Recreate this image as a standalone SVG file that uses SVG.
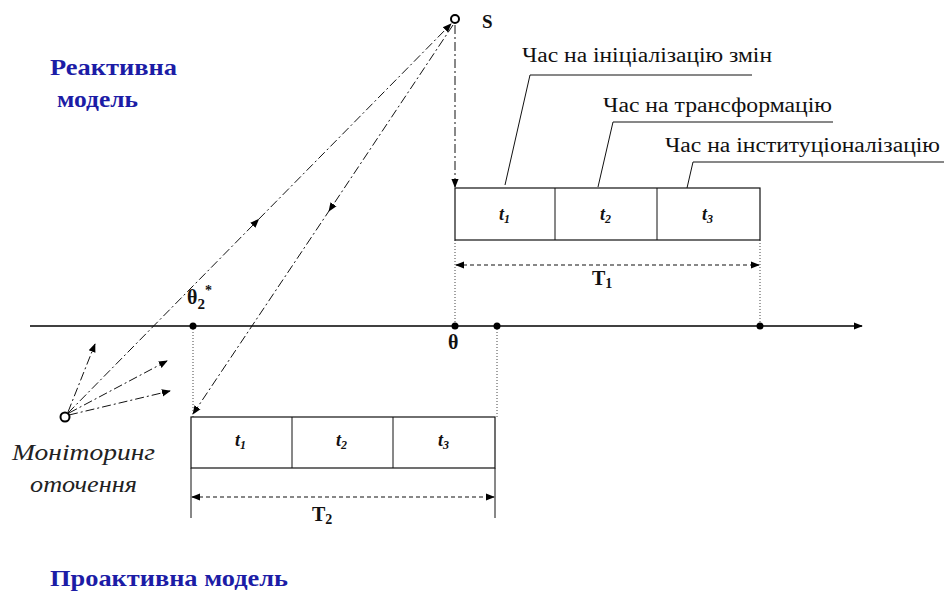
<svg xmlns="http://www.w3.org/2000/svg" width="944" height="595" viewBox="0 0 944 595">
<defs>
<marker id="ah" viewBox="0 0 10 10" refX="9" refY="5" markerWidth="9" markerHeight="9" markerUnits="userSpaceOnUse" orient="auto-start-reverse">
<path d="M0,1 L10,5 L0,9 Z" fill="#000"/>
</marker>
<marker id="ahm" viewBox="0 0 10 10" refX="5" refY="5" markerWidth="9" markerHeight="9" markerUnits="userSpaceOnUse" orient="auto">
<path d="M0,1 L10,5 L0,9 Z" fill="#000"/>
</marker>
<style>
text{font-family:'Liberation Serif','Times New Roman','DejaVu Serif',serif}
.title{font-weight:bold;fill:#1c1ca6;font-size:24px}
.lbl{font-size:20px;fill:#111}
.it{font-style:italic;font-size:24px;fill:#222}
.t{font-style:italic;font-weight:bold;font-size:18px;fill:#111}
.b{font-weight:bold;fill:#111}
.box{fill:#fff;stroke:#111;stroke-width:1.2}
.dd{fill:none;stroke:#111;stroke-width:1;stroke-dasharray:9 3 2 3}
.dash{fill:none;stroke:#111;stroke-width:1.2;stroke-dasharray:4 3}
.dot{fill:none;stroke:#444;stroke-width:1;stroke-dasharray:1 2}
.solid{fill:none;stroke:#111;stroke-width:1}
.pt{fill:#000}
.circ{fill:#fff;stroke:#000;stroke-width:2}
</style>
</defs>
<rect width="944" height="595" fill="#fff"/>

<g id="titles">
<text class="title" x="50" y="75" textLength="127" lengthAdjust="spacingAndGlyphs">Реактивна</text>
<text class="title" x="57" y="107" textLength="81" lengthAdjust="spacingAndGlyphs">модель</text>
<text class="title" x="50" y="586" textLength="238" lengthAdjust="spacingAndGlyphs">Проактивна модель</text>
</g>

<g id="connectors">
<line x1="30" y1="326" x2="862" y2="326" stroke="#000" stroke-width="1.5" marker-end="url(#ah)"/>
<line class="dd" x1="455" y1="25" x2="455" y2="187" marker-end="url(#ah)"/>
<polyline class="dd" points="68,413 256,222 451,24" marker-mid="url(#ahm)" marker-end="url(#ah)"/>
<polyline class="dd" points="453,25 331,208 193,414" marker-mid="url(#ahm)" marker-end="url(#ah)"/>
<line class="dd" x1="68" y1="412" x2="95" y2="344" marker-end="url(#ah)"/>
<line class="dd" x1="69" y1="413" x2="167" y2="361" marker-end="url(#ah)"/>
<line class="dd" x1="69" y1="415" x2="170" y2="391" marker-end="url(#ah)"/>
<line class="dot" x1="455" y1="240" x2="455" y2="326"/>
<line class="dot" x1="760" y1="240" x2="760" y2="326"/>
<line class="dot" x1="193" y1="326" x2="193" y2="417"/>
<line class="dot" x1="497" y1="326" x2="497" y2="417"/>
<line class="solid" x1="191" y1="468" x2="191" y2="518"/>
<line class="solid" x1="495" y1="468" x2="495" y2="518"/>
<line class="dash" x1="456" y1="265" x2="759" y2="265" marker-start="url(#ah)" marker-end="url(#ah)"/>
<line class="dash" x1="192" y1="497" x2="494" y2="497" marker-start="url(#ah)" marker-end="url(#ah)"/>
<polyline class="solid" points="505,185 530,75 752,75"/>
<polyline class="solid" points="598,187 613,122 833,122"/>
<polyline class="solid" points="687,188 693,162 944,162"/>
</g>

<g id="axis-points">
<circle class="pt" cx="193" cy="326" r="3.5"/>
<circle class="pt" cx="455" cy="326" r="3.5"/>
<circle class="pt" cx="497" cy="326" r="3.5"/>
<circle class="pt" cx="760" cy="326" r="3.5"/>
<text class="b" x="187" y="304" font-size="20">θ<tspan font-size="15" dy="5">2</tspan><tspan font-size="14" dy="-14">*</tspan></text>
<text class="b" x="448" y="349" font-size="20">θ</text>
</g>

<g id="node-s">
<circle class="circ" cx="455" cy="19" r="4"/>
<text class="b" x="482" y="28" font-size="19">S</text>
</g>

<g id="node-monitoring">
<circle class="circ" cx="65" cy="417" r="4.5"/>
<text class="it" x="12" y="460" textLength="143" lengthAdjust="spacingAndGlyphs">Моніторинг</text>
<text class="it" x="30" y="492" textLength="107" lengthAdjust="spacingAndGlyphs">оточення</text>
</g>

<g id="box-reactive">
<rect class="box" x="455" y="188" width="305" height="52"/>
<line class="solid" x1="555" y1="188" x2="555" y2="240"/>
<line class="solid" x1="657" y1="188" x2="657" y2="240"/>
<text class="t" x="499" y="220">t<tspan font-size="12" dy="3">1</tspan></text>
<text class="t" x="600" y="220">t<tspan font-size="12" dy="3">2</tspan></text>
<text class="t" x="702" y="220">t<tspan font-size="12" dy="3">3</tspan></text>
<text class="b" x="592" y="285" font-size="20">T<tspan font-size="14" dy="3">1</tspan></text>
</g>

<g id="box-proactive">
<rect class="box" x="191" y="417" width="304" height="51"/>
<line class="solid" x1="292" y1="417" x2="292" y2="468"/>
<line class="solid" x1="393" y1="417" x2="393" y2="468"/>
<text class="t" x="235" y="446">t<tspan font-size="12" dy="3">1</tspan></text>
<text class="t" x="336" y="446">t<tspan font-size="12" dy="3">2</tspan></text>
<text class="t" x="438" y="446">t<tspan font-size="12" dy="3">3</tspan></text>
<text class="b" x="312" y="521" font-size="20">T<tspan font-size="14" dy="3">2</tspan></text>
</g>

<g id="labels">
<text class="lbl" x="522" y="62" textLength="250" lengthAdjust="spacingAndGlyphs">Час на ініціалізацію  змін</text>
<text class="lbl" x="603" y="112" textLength="229" lengthAdjust="spacingAndGlyphs">Час на трансформацію</text>
<text class="lbl" x="665" y="152" textLength="275" lengthAdjust="spacingAndGlyphs">Час на інституціоналізацію</text>
</g>
</svg>
